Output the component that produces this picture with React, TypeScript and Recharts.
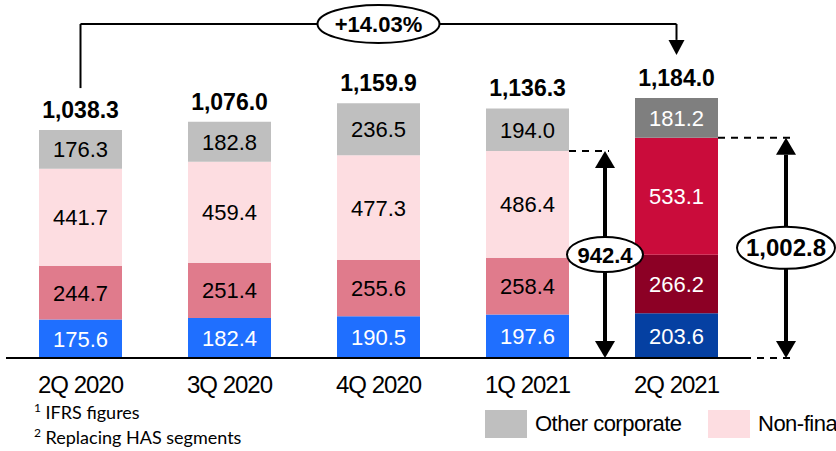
import { BarChart, Bar, XAxis, YAxis, LabelList, Cell, ReferenceLine, ReferenceDot } from "recharts";

const quarters = ["2Q 2020", "3Q 2020", "4Q 2020", "1Q 2021", "2Q 2021"];
const retail = [175.6, 182.4, 190.5, 197.6, 203.6];
const financialCorp = [244.7, 251.4, 255.6, 258.4, 266.2];
const nonFinancialCorp = [441.7, 459.4, 477.3, 486.4, 533.1];
const otherCorp = [176.3, 182.8, 236.5, 194.0, 181.2];
const totals = ["1,038.3", "1,076.0", "1,159.9", "1,136.3", "1,184.0"];
// corporate sub-total brackets on the last two bars
const bracketLabels: Record<number, string> = { 3: "942.4", 4: "1,002.8" };
const growthLabel = "+14.03%";

// y levels (data units) of the growth bracket above the bars
const BRACKET_TOP = 1521;
const BRACKET_LEFT_END = 1229;
const BRACKET_ARROW_END = 1380;

const data = quarters.map((q, i) => ({
  q,
  retail: retail[i],
  fin: financialCorp[i],
  nonFin: nonFinancialCorp[i],
  other: otherCorp[i],
}));

const FONT = "'Liberation Sans', Arial, sans-serif";
const LAST = quarters.length - 1;

const COLORS = {
  retail: ["#1F6FFF", "#0540A2"],
  fin: ["#E07B8C", "#8C0025"],
  nonFin: ["#FDDDE1", "#CA0C3B"],
  other: ["#BFBFBF", "#7F7F7F"],
};

function segLabel(values: number[], whiteAll: boolean) {
  return (p: any) => {
    const { x, y, width, height, index } = p;
    const white = whiteAll || index === LAST;
    return (
      <text
        x={x + width / 2}
        y={y + height / 2 + 8}
        textAnchor="middle"
        fontFamily={FONT}
        fontSize={22}
        fill={white ? "#fff" : "#000"}
      >
        {values[index].toFixed(1)}
      </text>
    );
  };
}

function VArrow({ x, top, bottom }: { x: number; top: number; bottom: number }) {
  const hw = 10;
  const hh = 17;
  return (
    <g>
      <line x1={x} y1={top + hh} x2={x} y2={bottom - hh} stroke="#000" strokeWidth={4} />
      <polygon points={`${x},${top} ${x - hw},${top + hh} ${x + hw},${top + hh}`} fill="#000" />
      <polygon points={`${x},${bottom} ${x - hw},${bottom - hh} ${x + hw},${bottom - hh}`} fill="#000" />
    </g>
  );
}

function TopLabel(p: any) {
  const { x, y, width, height, index } = p;
  const cx = x + width / 2;
  const out = [
    <text key="t" x={cx} y={y - 12} textAnchor="middle" fontFamily={FONT} fontSize={23} fontWeight="bold" fill="#000">
      {totals[index]}
    </text>,
  ];
  const label = bracketLabels[index];
  if (label) {
    const ppu = height / otherCorp[index];
    const top = y + height;
    const bottom = top + (retail[index] + financialCorp[index] + nonFinancialCorp[index]) * ppu;
    const wide = index === LAST;
    const ax = x + width + (wide ? 68 : 36);
    const dashEnd = x + width + (wide ? 76 : 40);
    const rx = wide ? 49 : 38;
    const ry = wide ? 21 : 17.5;
    const mid = (top + bottom) / 2;
    out.push(
      <g key="b">
        <line x1={x + width} y1={top} x2={dashEnd} y2={top} stroke="#000" strokeWidth={2} strokeDasharray="7 6" />
        <line x1={x + width} y1={bottom} x2={dashEnd} y2={bottom} stroke="#000" strokeWidth={2} strokeDasharray="7 6" />
        <VArrow x={ax} top={top} bottom={bottom} />
        <ellipse cx={ax} cy={mid} rx={rx} ry={ry} fill="#fff" stroke="#000" strokeWidth={2} />
        <text x={ax} y={mid + 8} textAnchor="middle" fontFamily={FONT} fontSize={wide ? 24 : 22} fontWeight="bold" fill="#000">
          {label}
        </text>
      </g>
    );
  }
  return <g>{out}</g>;
}

function ArrowShape(p: any) {
  const { x1, y1, x2, y2 } = p;
  const hh = 15;
  return (
    <g>
      <line x1={x1} y1={y1} x2={x2} y2={y2 - hh} stroke="#000" strokeWidth={2} />
      <polygon points={`${x2},${y2} ${x2 - 8},${y2 - hh} ${x2 + 8},${y2 - hh}`} fill="#000" />
    </g>
  );
}

function GrowthBadge(p: any) {
  const { cx, cy } = p;
  return (
    <g>
      <ellipse cx={cx} cy={cy} rx={61} ry={19} fill="#fff" stroke="#000" strokeWidth={2} />
      <text x={cx} y={cy + 8} textAnchor="middle" fontFamily={FONT} fontSize={22} fontWeight="bold" fill="#000">
        {growthLabel}
      </text>
    </g>
  );
}

function QuarterTick(p: any) {
  const { x, y, payload } = p;
  return (
    <text x={x} y={y + 33} textAnchor="middle" fontFamily={FONT} fontSize={24} letterSpacing={-1} fill="#000">
      {payload.value}
    </text>
  );
}

const legendItems = [
  { name: "Other corporate", color: COLORS.other[0], left: 485 },
  { name: "Non-financial corporate", color: COLORS.nonFin[0], left: 708 },
];

export default function App() {
  return (
    <div
      style={{
        position: "absolute",
        left: 0,
        top: 0,
        width: 836,
        height: 451,
        overflow: "hidden",
        background: "#fff",
      }}
    >
      <BarChart width={836} height={451} data={data} margin={{ top: 6.6, right: 85, bottom: 63, left: 6 }}>
        <XAxis
          dataKey="q"
          height={30}
          axisLine={{ stroke: "#000", strokeWidth: 2 }}
          tickLine={false}
          tickSize={0}
          tick={<QuarterTick />}
          interval={0}
        />
        <YAxis hide domain={[0, 1600]} />
        <Bar dataKey="retail" stackId="s" barSize={83} isAnimationActive={false}>
          {data.map((_, i) => (
            <Cell key={i} fill={COLORS.retail[i === LAST ? 1 : 0]} />
          ))}
          <LabelList dataKey="retail" content={segLabel(retail, true)} />
        </Bar>
        <Bar dataKey="fin" stackId="s" barSize={83} isAnimationActive={false}>
          {data.map((_, i) => (
            <Cell key={i} fill={COLORS.fin[i === LAST ? 1 : 0]} />
          ))}
          <LabelList dataKey="fin" content={segLabel(financialCorp, false)} />
        </Bar>
        <Bar dataKey="nonFin" stackId="s" barSize={83} isAnimationActive={false}>
          {data.map((_, i) => (
            <Cell key={i} fill={COLORS.nonFin[i === LAST ? 1 : 0]} />
          ))}
          <LabelList dataKey="nonFin" content={segLabel(nonFinancialCorp, false)} />
        </Bar>
        <Bar dataKey="other" stackId="s" barSize={83} isAnimationActive={false}>
          {data.map((_, i) => (
            <Cell key={i} fill={COLORS.other[i === LAST ? 1 : 0]} />
          ))}
          <LabelList dataKey="other" content={segLabel(otherCorp, false)} />
          <LabelList dataKey="other" content={TopLabel} />
        </Bar>
        <ReferenceLine
          segment={[{ x: quarters[0], y: BRACKET_LEFT_END }, { x: quarters[0], y: BRACKET_TOP }]}
          stroke="#000"
          strokeWidth={2}
        />
        <ReferenceLine
          segment={[{ x: quarters[0], y: BRACKET_TOP }, { x: quarters[LAST], y: BRACKET_TOP }]}
          stroke="#000"
          strokeWidth={2}
        />
        <ReferenceLine
          segment={[{ x: quarters[LAST], y: BRACKET_TOP }, { x: quarters[LAST], y: BRACKET_ARROW_END }]}
          shape={ArrowShape}
        />
        <ReferenceDot x={quarters[2]} y={BRACKET_TOP} shape={GrowthBadge} />
      </BarChart>

      {legendItems.map((it) => (
        <div
          key={it.name}
          style={{
            position: "absolute",
            left: it.left,
            top: 410,
            display: "flex",
            alignItems: "center",
            whiteSpace: "nowrap",
            fontFamily: FONT,
            fontSize: 22,
            letterSpacing: -0.5,
          }}
        >
          <span style={{ display: "inline-block", width: 42, height: 28, background: it.color, marginRight: 8 }} />
          {it.name}
        </div>
      ))}

      <div
        style={{
          position: "absolute",
          left: 34,
          top: 400,
          fontFamily: "Lato, 'Open Sans', sans-serif",
          fontSize: 18,
          lineHeight: "25px",
          color: "#000",
        }}
      >
        <div>
          <sup style={{ fontSize: 12, lineHeight: 0 }}>1</sup> IFRS figures
        </div>
        <div>
          <sup style={{ fontSize: 12, lineHeight: 0 }}>2</sup> Replacing HAS segments
        </div>
      </div>
    </div>
  );
}
